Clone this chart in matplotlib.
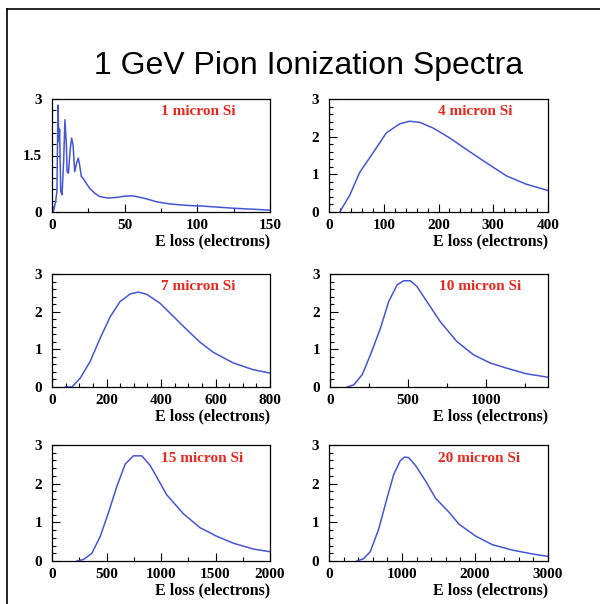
import matplotlib
matplotlib.use("Agg")
import matplotlib.pyplot as plt
from matplotlib.ticker import MultipleLocator
from matplotlib.lines import Line2D

title = "1 GeV Pion Ionization Spectra"
xlabel = "E loss (electrons)"

labels = ["1 micron Si", "4 micron Si", "7 micron Si",
          "10 micron Si", "15 micron Si", "20 micron Si"]

x1 = [0.2, 1.0, 2.5, 3.4, 4.1, 4.8, 5.2, 6.0, 6.9, 8.0, 8.9, 9.9, 10.4, 11.3,
      12.6, 13.5, 14.5, 15.6, 17.2, 18.1, 19.0, 20.2, 21.3, 23.6, 25.9, 29.3,
      32.8, 38.5, 45, 50, 55, 58, 65, 72, 80, 88, 95, 102, 110, 125, 140, 150]
y1 = [0.19, 0.02, 0.28, 0.55, 2.84, 1.87, 2.2, 0.55, 0.46, 1.34, 2.45, 1.78,
      1.07, 1.03, 1.69, 1.96, 1.78, 1.07, 1.34, 1.43, 1.25, 0.94, 0.90, 0.76,
      0.63, 0.50, 0.41, 0.37, 0.39, 0.42, 0.43, 0.41, 0.35, 0.27, 0.22, 0.19,
      0.17, 0.16, 0.14, 0.10, 0.07, 0.05]

x4 = [19.5, 37.7, 56, 80.4, 104.7, 129, 147, 166, 190, 220, 251, 287, 324, 360, 400]
y4 = [0, 0.44, 1.05, 1.57, 2.1, 2.34, 2.41, 2.38, 2.23, 1.97, 1.66, 1.31, 0.96, 0.74, 0.57]

x7 = [49, 73, 104, 140, 177, 214, 250, 287, 317, 348, 397, 446, 495, 543, 592, 665, 738, 800]
y7 = [0, 0, 0.24, 0.68, 1.30, 1.87, 2.27, 2.47, 2.52, 2.46, 2.22, 1.87, 1.52, 1.19, 0.92, 0.64, 0.46, 0.37]

x10 = [111, 153, 207, 260, 324, 377, 431, 473, 516, 558, 622, 707, 814, 920, 1027, 1134, 1262, 1400]
y10 = [0, 0.06, 0.33, 0.86, 1.56, 2.27, 2.71, 2.82, 2.82, 2.67, 2.27, 1.74, 1.21, 0.86, 0.64, 0.50, 0.35, 0.26]

x15 = [229, 290, 366, 443, 519, 595, 672, 748, 824, 901, 1053, 1206, 1359, 1511, 1664, 1847, 2000]
y15 = [0, 0.04, 0.2, 0.64, 1.26, 1.93, 2.51, 2.72, 2.72, 2.47, 1.71, 1.22, 0.86, 0.64, 0.46, 0.31, 0.24]

x20 = [381, 473, 565, 680, 781, 887, 978, 1038, 1093, 1185, 1323, 1461, 1645, 1782, 2012, 2241, 2517, 2793, 3000]
y20 = [0, 0.06, 0.24, 0.82, 1.53, 2.24, 2.60, 2.69, 2.67, 2.47, 2.07, 1.62, 1.26, 0.95, 0.64, 0.42, 0.28, 0.18, 0.12]

xs = [x1, x4, x7, x10, x15, x20]
ys = [y1, y4, y7, y10, y15, y20]
xmax = [150, 400, 800, 1400, 2000, 3000]
xmajor = [50, 100, 200, 500, 500, 1000]
xminor = [25, 20, 50, 250, 250, 200]
ymajor = [1.5, 1, 1, 1, 1, 1]
yminor = [0.3, 0.2, 0.2, 0.2, 0.2, 0.2]

W, H = 600, 604
fig = plt.figure(figsize=(W / 100, H / 100), dpi=100)

# panel rectangles in pixels: left, top, right, bottom
rects = [(52, 99, 270, 212), (329, 99, 548, 212),
         (52, 274, 270, 387), (330, 274, 548, 387),
         (52, 445, 270, 561), (329, 445, 548, 561)]

serif = "Liberation Serif"
line_col = "#4456d8"
red = "#e8281e"

for i, (l, t, r, b) in enumerate(rects):
    ax = fig.add_axes([l / W, 1 - b / H, (r - l) / W, (b - t) / H])
    ax.plot(xs[i], ys[i], color=line_col, lw=1.1)
    ax.set_xlim(0, xmax[i])
    ax.set_ylim(0, 3)
    ax.xaxis.set_major_locator(MultipleLocator(xmajor[i]))
    ax.xaxis.set_minor_locator(MultipleLocator(xminor[i]))
    ax.yaxis.set_major_locator(MultipleLocator(ymajor[i]))
    ax.yaxis.set_minor_locator(MultipleLocator(yminor[i]))
    if i == 0:
        ax.set_yticks([0, 1.5, 3])
        ax.set_yticklabels(["0", "1.5", "3"])
    ax.tick_params(which="both", direction="in", top=False, right=False,
                   width=0.8, colors="black")
    ax.tick_params(which="major", length=5.5)
    ax.tick_params(which="minor", length=2.8)
    ax.tick_params(axis="x", pad=5)
    ax.tick_params(axis="y", pad=7)
    for lab in ax.get_xticklabels() + ax.get_yticklabels():
        lab.set_fontfamily(serif)
        lab.set_fontweight("bold")
        lab.set_fontsize(11)
    for s in ax.spines.values():
        s.set_linewidth(0.9)
    ax.set_xlabel(xlabel, loc="right", fontfamily=serif, fontweight="bold",
                  fontsize=11.5, labelpad=1)
    ax.text(0.5, 0.885, labels[i], transform=ax.transAxes, ha="left",
            va="center", color=red, fontfamily=serif, fontweight="bold",
            fontsize=11)

fig.text(309 / W, 1 - 74 / H, title, ha="center", va="baseline",
         fontfamily="Liberation Sans", fontsize=23)

# outer frame (top and left lines)
fig.add_artist(Line2D([7 / W, 1.0], [1 - 9 / H, 1 - 9 / H], color="black",
                      lw=1.2, transform=fig.transFigure))
fig.add_artist(Line2D([7 / W, 7 / W], [1 - 9 / H, 0.0], color="black",
                      lw=1.2, transform=fig.transFigure))

fig.savefig("out.png", dpi=100, facecolor="white")
